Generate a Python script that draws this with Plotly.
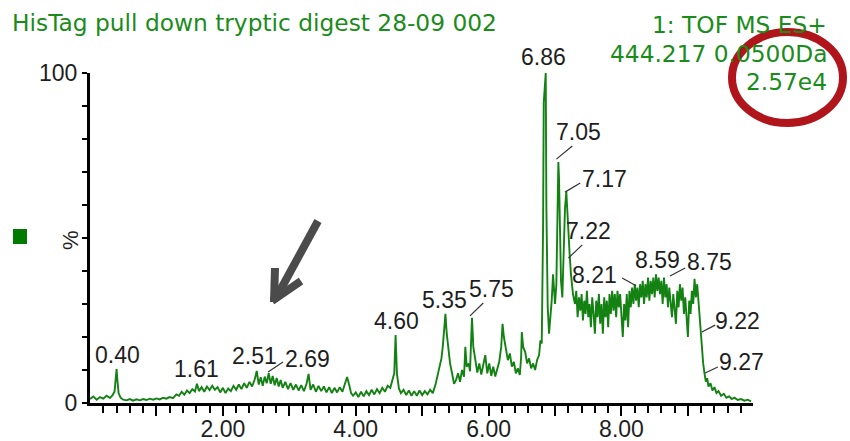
import plotly.graph_objects as go

# ---------------- data ----------------
rt_a = [0.00, 0.05, 0.10, 0.15, 0.20, 0.25, 0.30, 0.34, 0.37, 0.39, 0.40, 0.41, 0.43, 0.46,
        0.50, 0.55, 0.60, 0.65, 0.70, 0.75, 0.80, 0.85, 0.90, 0.95, 1.00, 1.05, 1.10, 1.15,
        1.20, 1.25, 1.30]
int_a = [1.2, 2.0, 1.0, 1.8, 1.3, 2.2, 1.5, 2.4, 3.5, 8.0, 10.3, 7.5, 3.0, 1.6,
         1.0, 0.8, 1.2, 0.7, 1.1, 0.8, 1.2, 0.9, 1.3, 1.0, 1.4, 1.1, 1.6, 1.3,
         1.8, 1.5, 2.6]

rt_b = [1.34, 1.38, 1.42, 1.46, 1.50, 1.54, 1.58, 1.61, 1.64, 1.68, 1.72, 1.76, 1.80, 1.84,
        1.88, 1.92, 1.96, 2.00, 2.04, 2.08, 2.12, 2.16, 2.20, 2.24, 2.28, 2.32, 2.36, 2.40,
        2.44, 2.48, 2.51, 2.54, 2.57, 2.60, 2.63, 2.66, 2.69, 2.72, 2.75, 2.78, 2.81, 2.84,
        2.87, 2.90, 2.94, 2.98]
int_b = [2.2, 3.4, 2.5, 3.8, 3.0, 4.2, 3.5, 5.8, 3.6, 4.8, 3.4, 5.0, 3.9, 5.2,
         4.0, 4.8, 3.2, 4.6, 3.0, 4.4, 3.6, 5.2, 4.0, 5.6, 4.2, 6.0, 4.6, 6.4,
         5.0, 7.2, 9.7, 5.6, 7.8, 5.2, 8.0, 6.0, 9.0, 5.8, 8.2, 5.4, 7.6, 5.0,
         7.0, 4.6, 6.4, 4.2]

rt_c = [3.02, 3.06, 3.10, 3.14, 3.18, 3.22, 3.26, 3.29, 3.32, 3.36, 3.40, 3.44, 3.48, 3.52,
        3.56, 3.60, 3.64, 3.68, 3.72, 3.76, 3.80, 3.84, 3.87, 3.90, 3.93, 3.96, 4.00, 4.04,
        4.08, 4.12, 4.16, 4.20, 4.24, 4.28, 4.32, 4.36, 4.40, 4.44, 4.48, 4.52, 4.55, 4.58,
        4.60, 4.62, 4.65, 4.68]
int_c = [6.0, 4.0, 5.6, 3.8, 5.4, 3.6, 5.8, 8.8, 4.0, 5.6, 3.4, 5.2, 3.6, 5.0,
         3.2, 4.8, 3.0, 4.6, 3.2, 4.8, 3.4, 6.0, 7.9, 5.6, 3.0, 2.2, 3.2, 1.8,
         3.4, 2.0, 3.6, 2.4, 4.0, 2.6, 4.2, 3.0, 4.6, 3.4, 5.2, 4.6, 7.0, 9.0,
         20.6, 9.0, 4.4, 3.0]

rt_d = [4.72, 4.76, 4.80, 4.84, 4.88, 4.92, 4.96, 5.00, 5.04, 5.08, 5.12, 5.16, 5.20, 5.23,
        5.26, 5.29, 5.31, 5.33, 5.35, 5.37, 5.39, 5.42, 5.45, 5.48, 5.51, 5.54, 5.57, 5.60,
        5.63, 5.65, 5.67, 5.70, 5.72, 5.74, 5.75, 5.77, 5.80, 5.83, 5.86, 5.89, 5.92, 5.95,
        5.98, 6.01, 6.04, 6.07, 6.10, 6.13, 6.16, 6.19, 6.21, 6.23, 6.26, 6.29, 6.32, 6.35,
        6.38, 6.41, 6.44, 6.47, 6.49, 6.50, 6.52, 6.55, 6.58, 6.61, 6.64, 6.67, 6.70, 6.73,
        6.76, 6.78, 6.80]
int_d = [4.0, 2.4, 3.8, 2.2, 3.6, 2.2, 3.8, 2.4, 3.6, 2.6, 4.0, 3.0, 5.5, 8.0,
         10.6, 13.5, 17.0, 22.0, 27.0, 21.0, 17.6, 12.0, 9.0, 5.8, 7.0, 9.0, 6.4, 10.0,
         8.0, 17.0, 11.0, 12.0, 9.6, 18.0, 25.8, 17.0, 13.0, 9.2, 12.0, 8.6, 11.6, 14.5,
         9.0, 12.0, 8.2, 11.0, 8.0, 10.0, 12.5, 17.0, 24.0, 20.0, 16.0, 13.0, 15.0, 11.0,
         12.5, 9.0, 10.5, 8.5, 14.0, 21.5, 17.0, 15.5, 12.0, 13.5, 10.5, 12.0, 10.0, 13.0,
         14.5, 19.0, 18.0]

rt_e = [6.81, 6.82, 6.83, 6.85, 6.86, 6.87, 6.88, 6.89, 6.91, 6.93, 6.95, 6.97, 6.99, 7.00,
        7.02, 7.03, 7.04, 7.05, 7.06, 7.07, 7.09, 7.11, 7.13, 7.15, 7.17, 7.19, 7.21, 7.22,
        7.24, 7.27]
int_e = [30.0, 53.0, 91.0, 96.0, 100.0, 59.0, 40.0, 29.0, 21.0, 25.0, 31.0, 39.0, 33.0, 30.0,
         36.0, 55.0, 70.0, 73.0, 68.0, 59.0, 37.0, 32.0, 45.0, 59.0, 64.0, 55.0, 48.0, 45.0,
         39.0, 33.0]

rt_f = [7.30, 7.32, 7.34, 7.36, 7.38, 7.40, 7.42, 7.44, 7.46, 7.48, 7.50, 7.52, 7.54, 7.56,
        7.58, 7.60, 7.62, 7.64, 7.66, 7.68, 7.70, 7.72, 7.74, 7.76, 7.78, 7.80, 7.82, 7.84,
        7.86, 7.88, 7.90, 7.92, 7.94, 7.96, 7.98, 8.00, 8.02, 8.04, 8.06, 8.08, 8.10, 8.12,
        8.14, 8.16, 8.18, 8.20, 8.22, 8.24, 8.26, 8.28, 8.30, 8.32, 8.34, 8.36, 8.38, 8.40,
        8.42, 8.44, 8.46, 8.48, 8.50, 8.52, 8.54, 8.56, 8.58, 8.60, 8.62, 8.64, 8.66, 8.68,
        8.70, 8.72, 8.74, 8.76, 8.78, 8.80, 8.82, 8.84, 8.86, 8.88, 8.90, 8.92, 8.94, 8.96,
        8.98, 9.00, 9.02, 9.04, 9.06, 9.08, 9.10, 9.12, 9.14, 9.16, 9.18]
int_f = [30, 34, 26, 32, 28, 33, 25, 31, 27, 34, 26, 30, 23, 32,
         27, 21, 31, 26, 33, 24, 30, 21, 32, 26, 31, 23, 33, 27,
         34, 28, 33, 26, 34, 29, 33, 27, 20, 30, 25, 33, 23, 34,
         29, 35, 30, 36, 31, 35, 29, 36, 32, 37, 30, 36, 32, 38,
         31, 37, 33, 38, 32, 39, 34, 38, 33, 37, 30, 38, 32, 36,
         29, 35, 31, 26, 33, 28, 24, 34, 29, 36, 31, 35, 27, 32,
         24, 20, 31, 27, 34, 30, 37.6, 32, 36, 30, 26]

rt_g = [9.19, 9.21, 9.23, 9.25, 9.27, 9.29, 9.31, 9.34, 9.37, 9.40, 9.43, 9.46, 9.50, 9.54,
        9.58, 9.62, 9.66, 9.70, 9.75, 9.80, 9.85, 9.90, 9.95]
int_g = [22, 17, 12, 9, 6.5, 7.5, 5.0, 6.0, 3.8, 4.8, 3.0, 3.6, 2.2, 2.8,
         1.6, 2.0, 1.2, 1.6, 0.9, 1.2, 0.7, 1.0, 0.5]

retention_time = rt_a + rt_b + rt_c + rt_d + rt_e + rt_f + rt_g
intensity = int_a + int_b + int_c + int_d + int_e + int_f + int_g

# labelled peaks (retention times, minutes)
peak_rt = [0.40, 1.61, 2.51, 2.69, 4.60, 5.35, 5.75, 6.86, 7.05, 7.17, 7.22,
           8.21, 8.59, 8.75, 9.22, 9.27]

x_minor_step = 0.2
x_major_vals = [1, 2, 3, 4, 5, 6, 7, 8, 9]
x_label_vals = [2, 4, 6, 8]
y_tick_step = 10
y_label_vals = [0, 100]

title_text = "HisTag pull down tryptic digest 28-09 002"
info_lines = ["1: TOF MS ES+", "444.217 0.0500Da", "2.57e4"]

# ---------------- layout helpers ----------------
W, H = 850, 441
L, R, T, B = 90, 97, 73, 38
PW, PH = W - L - R, H - T - B
X_MAX = 9.98


def pxx(x):
    return (x - L) / PW


def pxy(y):
    return (H - B - y) / PH


x_small_ticks = [round(x_minor_step * i, 2) for i in range(1, 50)]
x_small_text = [f"{v:.2f}" if any(abs(v - lv) < 1e-6 for lv in x_label_vals) else ""
                for v in x_small_ticks]
y_ticks = [y_tick_step * i for i in range(0, 11)]
y_text = [str(v) if v in y_label_vals else "" for v in y_ticks]

GREEN = "#1a8c1a"
LINE_GREEN = "#138213"
LABEL_FONT = dict(family="Liberation Sans, Arial, sans-serif", size=23, color="#1e1e1e")
GREEN_FONT = dict(family="DejaVu Sans, sans-serif", size=23.3, color=GREEN)
TICK_FONT = dict(family="Liberation Sans, Arial, sans-serif", size=23, color="#1e1e1e")

fig = go.Figure()
fig.add_trace(go.Scatter(x=retention_time, y=intensity, mode="lines",
                         line=dict(color=LINE_GREEN, width=1.9),
                         hoverinfo="skip", showlegend=False))
# empty trace so that the secondary (long-tick) x axis is drawn
fig.add_trace(go.Scatter(x=[], y=[], xaxis="x2", yaxis="y", mode="lines",
                         hoverinfo="skip", showlegend=False))

# label placement (label centre: x in minutes, y in % of full scale)
label_pos = [(0.41, 14.5), (1.61, 10.3), (2.48, 14.2), (3.28, 13.3), (4.61, 24.8),
             (5.33, 31.2), (6.05, 34.5), (6.83, 104.8), (7.35, 82.1), (7.74, 67.9),
             (7.51, 52.1), (7.60, 38.8), (8.54, 43.3), (9.32, 42.7), (9.75, 24.8),
             (9.80, 12.4)]
leaders = {2.69: ((2.68, 9.4), (2.905, 12.4)),
           5.75: ((5.72, 26.4), (5.92, 30.3)),
           7.05: ((7.02, 73.9), (7.26, 77.9)),
           7.17: ((7.15, 63.9), (7.38, 66.7)),
           7.22: ((7.20, 43.9), (7.41, 47.9)),
           8.21: ((8.01, 37.9), (8.22, 35.5)),
           8.75: ((8.73, 38.5), (8.96, 40.9)),
           9.22: ((9.21, 21.5), (9.41, 23.6)),
           9.27: ((9.26, 9.1), (9.45, 10.9))}

annotations = []
shapes = []
for rt, (lx, ly) in zip(peak_rt, label_pos):
    annotations.append(dict(x=lx, y=ly / 100.0, xref="x", yref="paper", text=f"{rt:.2f}",
                            showarrow=False, font=LABEL_FONT,
                            xanchor="center", yanchor="middle"))
    if rt in leaders:
        (x0, y0), (x1, y1) = leaders[rt]
        shapes.append(dict(type="line", xref="x", yref="y", x0=x0, y0=y0, x1=x1, y1=y1,
                           line=dict(color="#333333", width=1.2)))

# title and info block
annotations.append(dict(x=pxx(10), y=pxy(22), xref="paper", yref="paper", text=title_text,
                        showarrow=False, font=GREEN_FONT, xanchor="left", yanchor="middle"))
for i, line in enumerate(info_lines):
    annotations.append(dict(x=pxx(829), y=pxy(24 + 29 * i), xref="paper", yref="paper",
                            text=line, showarrow=False, font=GREEN_FONT,
                            xanchor="right", yanchor="middle"))
# "%" axis label
annotations.append(dict(x=pxx(70), y=pxy(240), xref="paper", yref="paper", text="%",
                        showarrow=False, textangle=-90,
                        font=dict(family="Liberation Sans, Arial, sans-serif", size=22,
                                  color="#1e1e1e"),
                        xanchor="center", yanchor="middle"))

# green legend square
shapes.append(dict(type="rect", xref="paper", yref="paper", x0=pxx(13), x1=pxx(27),
                   y0=pxy(244), y1=pxy(229), fillcolor="#007a00", line=dict(width=0)))
# red highlight ellipse
shapes.append(dict(type="circle", xref="paper", yref="paper", x0=pxx(732), x1=pxx(843),
                   y0=pxy(123), y1=pxy(32), line=dict(color="#b0151b", width=8)))
# grey arrow
ARROW = dict(color="#4b4b4b", width=8)
shapes.append(dict(type="line", xref="paper", yref="paper", x0=pxx(318), y0=pxy(221),
                   x1=pxx(276), y1=pxy(298), line=ARROW))
shapes.append(dict(type="line", xref="paper", yref="paper", x0=pxx(275), y0=pxy(268),
                   x1=pxx(274), y1=pxy(302), line=ARROW))
shapes.append(dict(type="line", xref="paper", yref="paper", x0=pxx(301), y0=pxy(281),
                   x1=pxx(272), y1=pxy(301), line=ARROW))

fig.update_layout(
    width=W, height=H,
    margin=dict(l=L, r=R, t=T, b=B, pad=0, autoexpand=False),
    paper_bgcolor="white", plot_bgcolor="white",
    showlegend=False,
    annotations=annotations,
    shapes=shapes,
    xaxis=dict(range=[0, X_MAX], showgrid=False, zeroline=False, automargin=False,
               showline=True, linecolor="black", linewidth=3,
               tickmode="array", tickvals=x_small_ticks, ticktext=x_small_text,
               ticks="outside", ticklen=7, tickwidth=2, tickcolor="black",
               ticklabelstandoff=-4, tickfont=TICK_FONT),
    xaxis2=dict(range=[0, X_MAX], overlaying="x", anchor="y", side="bottom",
                showgrid=False, zeroline=False, automargin=False, showline=False,
                tickmode="array", tickvals=x_major_vals, showticklabels=False,
                ticks="outside", ticklen=12, tickwidth=2, tickcolor="black"),
    yaxis=dict(range=[0, 100], showgrid=False, zeroline=False, automargin=False,
               showline=True, linecolor="black", linewidth=3,
               tickmode="array", tickvals=y_ticks, ticktext=y_text,
               ticks="outside", ticklen=5, tickwidth=2, tickcolor="black",
               tickfont=TICK_FONT),
)

fig.write_html("out.html")
